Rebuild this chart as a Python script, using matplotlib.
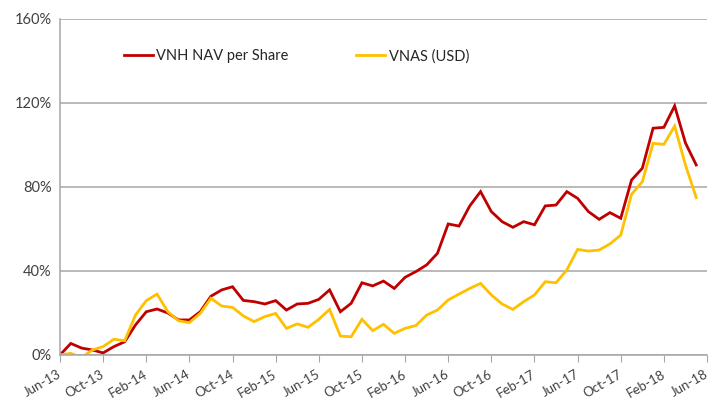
import matplotlib
matplotlib.use("Agg")
import matplotlib.pyplot as plt
from matplotlib.ticker import FuncFormatter

# maanedlige verdier, Jun-13 til May-18 (kumulativ avkastning i %)
nav = [0, 5.5, 3.3, 2.4, 1, 4, 6.3, 14.3, 20.6, 21.9,
       20, 16.7, 16.7, 20.6, 28, 31, 32.5, 26, 25.4, 24.3,
       25.9, 21.4, 24.3, 24.6, 26.5, 31, 20.6, 24.6, 34.4, 32.9,
       35.2, 31.7, 37, 39.7, 42.9, 48.4, 62.4, 61.4, 71, 77.8,
       68.3, 63.5, 60.8, 63.5, 62, 71, 71.4, 77.8, 74.6, 68.3,
       64.6, 67.8, 65.1, 83.3, 88.9, 108, 108.4, 118.6, 101, 90.5]
vnas = [0, 0.8, -1.2, 2.4, 4, 7.5, 6.8, 19, 25.9, 29,
        20.6, 16.3, 15.4, 19.8, 27, 23.3, 22.7, 18.6, 15.9, 18.3,
        19.8, 12.7, 14.8, 13.2, 17, 21.7, 9, 8.7, 17, 11.6,
        14.6, 10.3, 12.7, 14, 19, 21.4, 26.2, 29, 31.7, 34.1,
        28.6, 24.3, 21.7, 25.4, 28.6, 34.9, 34.4, 40.5, 50.3, 49.5,
        50, 52.9, 57.1, 76.5, 82.5, 100.8, 100.3, 109, 90.5, 75]
tick_labels = ["Jun-13", "Oct-13", "Feb-14", "Jun-14", "Oct-14", "Feb-15",
               "Jun-15", "Oct-15", "Feb-16", "Jun-16", "Oct-16", "Feb-17",
               "Jun-17", "Oct-17", "Feb-18", "Jun-18"]

plt.rcParams['font.family'] = ['Lato', 'DejaVu Sans']

fig = plt.figure(figsize=(7.12, 4.0), dpi=100)
ax = fig.add_axes([60/712, 45/400, 647/712, 336/400])

mnd = list(range(len(nav)))
ax.plot(mnd, nav, color="#C00000", lw=2.0, label="VNH NAV per Share", solid_joinstyle="miter")
ax.plot(mnd, vnas, color="#FFC000", lw=2.0, label="VNAS (USD)", solid_joinstyle="miter")

ax.set_xlim(0, 60)
ax.set_ylim(0, 160)
ax.set_yticks([0, 40, 80, 120, 160])
ax.yaxis.set_major_formatter(FuncFormatter(lambda v, p: f"{v:.0f}%"))
ax.set_xticks(range(0, 61, 4))
ax.set_xticklabels(tick_labels, rotation=30, ha="right", va="center", rotation_mode="anchor")

ax.grid(axis="y", color="#A6A6A6", lw=1.1)
ax.set_axisbelow(True)
for s in ["top", "right"]:
    ax.spines[s].set_visible(False)
ax.spines["left"].set_color("#A6A6A6")
ax.spines["bottom"].set_color("#A6A6A6")
ax.spines["left"].set_linewidth(1.1)
ax.spines["bottom"].set_linewidth(1.1)
ax.tick_params(axis="y", length=0, pad=6, labelsize=10.5, labelcolor="#404040")
ax.tick_params(axis="x", length=5, color="#A6A6A6", pad=8, labelsize=9.5, labelcolor="#404040")

ax.legend(loc="upper left", bbox_to_anchor=(0.078, 0.95), ncol=2, frameon=False,
          fontsize=10.5, handlelength=2.0, handletextpad=0.25, columnspacing=4.6,
          labelcolor="#262626")

fig.savefig("out.png", dpi=100)
